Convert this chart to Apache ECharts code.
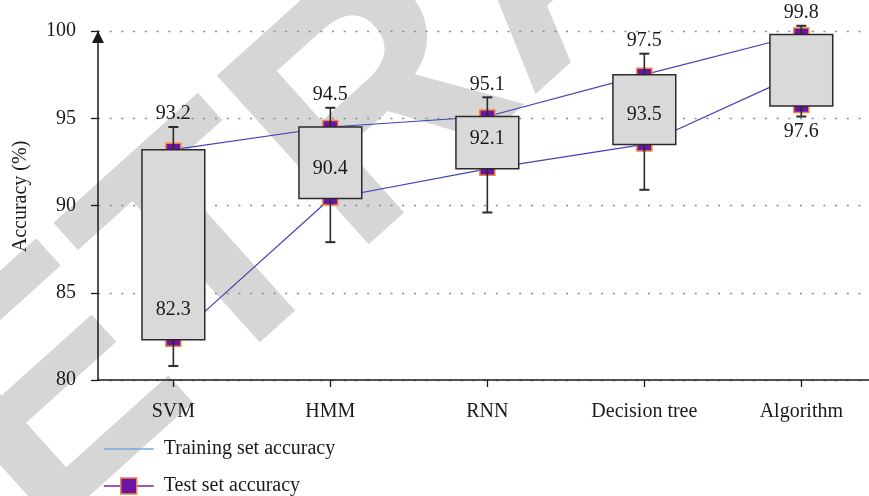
<!DOCTYPE html>
<html>
<head>
<meta charset="utf-8">
<script src="https://cdn.jsdelivr.net/npm/echarts@6/dist/echarts.min.js"></script>
<style>
  html, body { margin: 0; padding: 0; background: #ffffff; }
  #chart { width: 869px; height: 496px; }
</style>
</head>
<body>
<div id="chart"></div>
<script>
// Classifier accuracy (%) per method
const categories = ['SVM', 'HMM', 'RNN', 'Decision tree', 'Algorithm'];
const trainingAccuracy = [93.2, 94.5, 95.1, 97.5, 99.8];
const testAccuracy = [82.3, 90.4, 92.1, 93.5, 97.6];
const boxLower = [82.3, 90.4, 92.1, 93.5, 95.7];
const boxUpper = [93.2, 94.5, 95.1, 97.5, 99.8];
const whiskerLower = [80.8, 87.9, 89.6, 90.9, 95.1];
const whiskerUpper = [94.5, 95.6, 96.2, 98.7, 100.3];
const yTicks = [80, 85, 90, 95, 100];

const SERIF = '"Liberation Serif", "DejaVu Serif", serif';
const TEXT_COLOR = '#1a1a1a';
const LINE_COLOR = '#4343b4';

// method positions on the horizontal value axis (one unit per method)
const slots = categories.map((c, i) => i);

const boxData = slots.map(i => [
  i, boxLower[i], boxUpper[i], whiskerLower[i], whiskerUpper[i],
  trainingAccuracy[i], testAccuracy[i]
]);

function renderBox(params, api) {
  const idx = api.value(0);
  const lo = api.value(1), hi = api.value(2);
  const wLo = api.value(3), wHi = api.value(4);
  const trainVal = api.value(5), testVal = api.value(6);

  const pLo = api.coord([idx, lo]);
  const pHi = api.coord([idx, hi]);
  const pWLo = api.coord([idx, wLo]);
  const pWHi = api.coord([idx, wHi]);
  const cx = pLo[0];
  const boxW = api.size([1, 0])[0] * 0.4;
  const capW = 10;
  const mW = 15, mH = 13;

  const stroke = { stroke: '#2b2b2b', lineWidth: 1.6 };
  const markerStyle = { fill: '#6b14a6', stroke: '#f0873a', lineWidth: 1.5 };
  const textStyle = (t, y) => ({
    type: 'text',
    x: cx, y: y,
    style: {
      text: t, fill: TEXT_COLOR, fontSize: 20, fontFamily: SERIF,
      align: 'center', verticalAlign: 'middle',
      textAlign: 'center', textVerticalAlign: 'middle'
    }
  });

  // test label sits just above the box floor when it coincides with it,
  // otherwise it goes under the lower whisker
  const testOnFloor = Math.abs(testVal - lo) < 1e-9;
  const testY = testOnFloor ? api.coord([idx, testVal])[1] - 30 : pWLo[1] + 15;

  return {
    type: 'group',
    children: [
      { type: 'rect', shape: { x: cx - mW / 2, y: pHi[1] - mH / 2, width: mW, height: mH }, style: markerStyle },
      { type: 'rect', shape: { x: cx - mW / 2, y: pLo[1] - mH / 2, width: mW, height: mH }, style: markerStyle },
      { type: 'line', shape: { x1: cx, y1: pWHi[1], x2: cx, y2: pWLo[1] }, style: stroke },
      { type: 'line', shape: { x1: cx - capW / 2, y1: pWHi[1], x2: cx + capW / 2, y2: pWHi[1] }, style: { stroke: '#2b2b2b', lineWidth: 2 } },
      { type: 'line', shape: { x1: cx - capW / 2, y1: pWLo[1], x2: cx + capW / 2, y2: pWLo[1] }, style: { stroke: '#2b2b2b', lineWidth: 2 } },
      { type: 'rect', shape: { x: cx - boxW / 2, y: pHi[1], width: boxW, height: pLo[1] - pHi[1] }, style: { fill: '#d9d9d9', stroke: '#2b2b2b', lineWidth: 1.5 } },
      textStyle(String(trainVal), pWHi[1] - 13),
      textStyle(String(testVal), testY)
    ]
  };
}

const chart = echarts.init(document.getElementById('chart'), null, { renderer: 'canvas' });

chart.setOption({
  animation: false,
  backgroundColor: '#ffffff',
  graphic: [{
    type: 'text',
    z: -10,
    silent: true,
    x: -199,
    y: 633,
    rotation: 42 * Math.PI / 180,
    style: {
      text: 'RETRACTED',
      font: 'bold 330px "Liberation Sans", sans-serif',
      fill: '#d6d6d6',
      align: 'left', verticalAlign: 'middle',
      textAlign: 'left', textVerticalAlign: 'middle'
    }
  }],
  grid: { left: 98, right: 0, top: 31, bottom: 116, containLabel: false },
  legend: {
    orient: 'vertical',
    left: 98,
    top: 434,
    height: 90,
    itemWidth: 50,
    itemHeight: 20,
    itemGap: 17,
    textStyle: { fontSize: 20, fontFamily: SERIF, color: TEXT_COLOR, padding: [0, 0, 0, 5] },
    data: [
      {
        name: 'Training set accuracy',
        icon: 'path://M0,0h0.01v0.01h-0.01z M0,9.25H50V10.75H0z M50,20h-0.01v-0.01h0.01z',
        itemStyle: { color: '#74a9de', borderWidth: 0 }
      },
      {
        name: 'Test set accuracy',
        itemStyle: { color: '#6b14a6', borderColor: '#f0873a', borderWidth: 1.5 },
        lineStyle: { color: '#7a22b0', width: 1.5 }
      }
    ]
  },
  xAxis: {
    type: 'value',
    min: -0.48,
    max: 4.431,
    axisLine: { show: true, onZero: false, lineStyle: { color: '#1a1a1a', width: 1.5 } },
    axisTick: { show: true, inside: false, length: 7, customValues: slots, lineStyle: { color: '#1a1a1a', width: 1.3 } },
    axisLabel: {
      margin: 22, fontSize: 20, fontFamily: SERIF, color: TEXT_COLOR,
      customValues: slots,
      formatter: v => categories[Math.round(v)]
    },
    splitLine: { show: false }
  },
  yAxis: {
    type: 'value',
    min: yTicks[0],
    max: yTicks[yTicks.length - 1],
    interval: yTicks[1] - yTicks[0],
    name: 'Accuracy (%)',
    nameLocation: 'middle',
    nameGap: 67,
    nameTextStyle: { fontSize: 20, fontFamily: SERIF, color: TEXT_COLOR, padding: [0, 0, 0, 18] },
    axisLine: {
      show: true,
      onZero: false,
      symbol: ['none', 'triangle'],
      symbolSize: [12, 12],
      symbolOffset: [0, -6],
      lineStyle: { color: '#1a1a1a', width: 1.5 }
    },
    axisTick: { show: true, inside: false, length: 7, lineStyle: { color: '#1a1a1a', width: 1.3 } },
    axisLabel: { margin: 22, fontSize: 20, fontFamily: SERIF, color: TEXT_COLOR },
    splitLine: { show: true, lineStyle: { color: '#8a8a8a', width: 1.3, type: [2, 9.7] } }
  },
  series: [
    {
      name: 'Training set accuracy',
      type: 'line',
      data: slots.map(i => [i, trainingAccuracy[i]]),
      symbol: 'none',
      z: 2,
      lineStyle: { color: LINE_COLOR, width: 1.2 },
      itemStyle: { color: LINE_COLOR }
    },
    {
      name: 'Test set accuracy',
      type: 'line',
      data: slots.map(i => [i, testAccuracy[i]]),
      symbol: 'rect',
      showSymbol: false,
      z: 2,
      lineStyle: { color: LINE_COLOR, width: 1.2 },
      itemStyle: { color: LINE_COLOR }
    },
    {
      name: 'boxes',
      type: 'custom',
      z: 3,
      clip: false,
      renderItem: renderBox,
      encode: { x: 0, y: [1, 2, 3, 4] },
      data: boxData
    }
  ]
});
</script>
</body>
</html>
